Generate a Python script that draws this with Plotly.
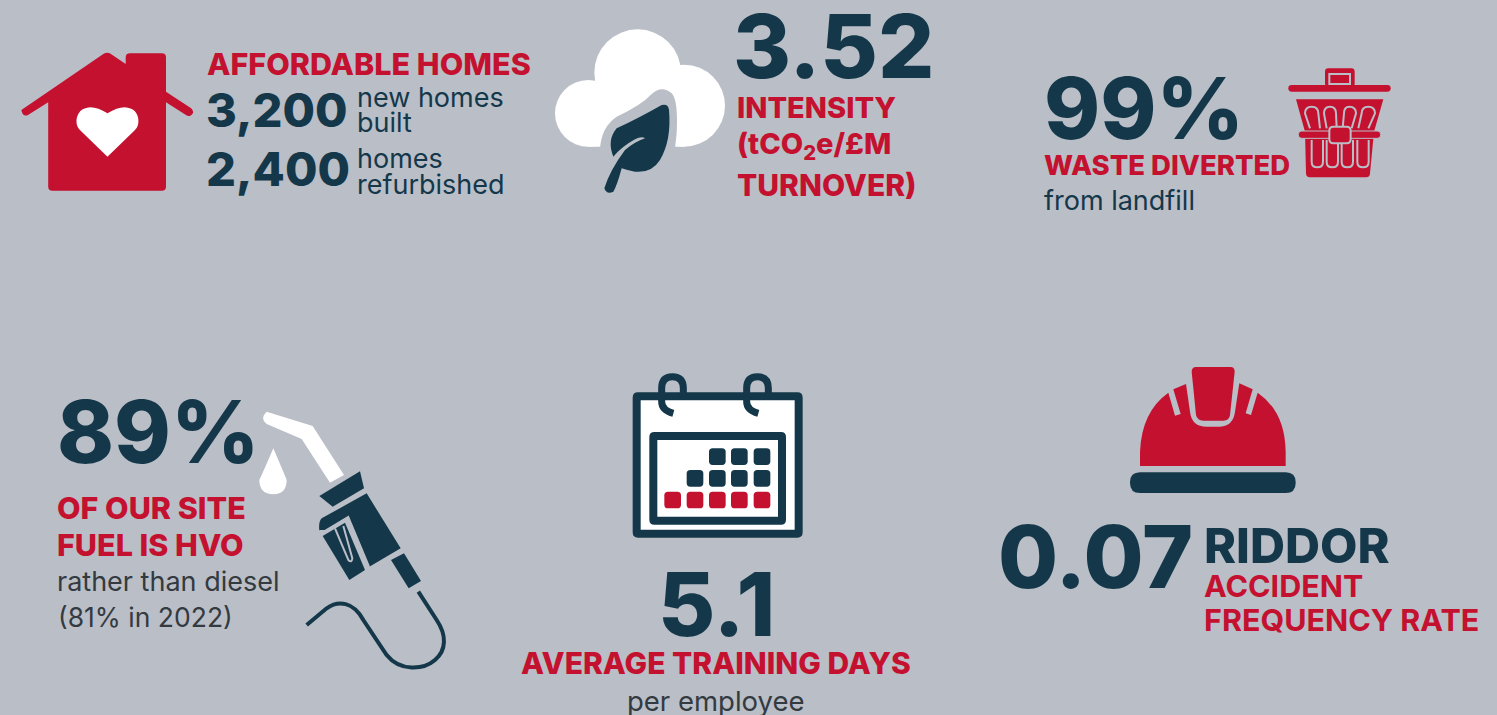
import re
import plotly.graph_objects as go

W, H = 1497, 715
BG = "#babec7"; NAVY = "#14384a"; RED = "#c4112f"; WHITE = "#ffffff"; INK = "#333a40"
FONT = "Inter"

# ---- content -------------------------------------------------------------
HEADLINES = ["3,200", "2,400", "3.52", "99%", "89%", "5.1", "0.07"]
RED_LABELS = ["AFFORDABLE HOMES", "INTENSITY", "(tCO<sub>2</sub>e/£M", "TURNOVER)",
              "WASTE DIVERTED", "OF OUR SITE", "FUEL IS HVO", "AVERAGE TRAINING DAYS"]
RED_SEMI_LABELS = ["ACCIDENT", "FREQUENCY RATE"]
BODY_LABELS = ["new homes", "built", "homes", "refurbished", "from landfill"]
INK_LABELS = ["rather than diesel", "(81% in 2022)", "per employee"]
DARK_LABELS = ["RIDDOR"]

# placement: x, y-centre, size, anchor
HEAD_POS = [(204, 109, 47, "left"), (204, 168, 47, "left"), (731, 45, 88.5, "left"),
            (1042, 108, 85, "left"), (55, 432, 86, "left"), (716, 604, 88, "center"),
            (996, 556, 87, "left")]
RED_POS = [(205, 63, 30.5, "left"), (735, 107, 29, "left"), (735, 145, 29, "left"),
           (735, 185, 30, "left"), (1042, 165, 27.5, "left"), (55, 507, 30.5, "left"),
           (55, 544, 30.5, "left"), (716, 663, 30, "center")]
RED_SEMI_POS = [(1202, 585, 30.5, "left"), (1202, 619, 30.5, "left")]
BODY_POS = [(355, 97, 27, "left"), (355, 122, 27, "left"), (355, 158, 27, "left"),
            (355, 184, 27, "left"), (1042, 200, 27, "left")]
INK_POS = [(55, 581, 27, "left"), (56, 617, 26.5, "left"), (716, 701, 27.5, "center")]
DARK_POS = [(1202, 545, 48.5, "left")]

CAL_ROWS = [[0, 0, 1, 1, 1], [0, 1, 1, 1, 1], [2, 2, 2, 2, 2]]

# ---- helpers ---------------------------------------------------------------
def tr(path, ox, oy, sx=1 / 3, sy=1 / 3):
    out, isx = [], True
    for tok in re.findall(r"[A-Za-z]|-?\d+\.?\d*", path):
        if tok.isalpha():
            out.append(tok); isx = True
        else:
            v = float(tok) * (sx if isx else sy) + (ox if isx else oy)
            out.append(f"{v:.2f}"); isx = not isx
    return " ".join(out)

def rr(x0, y0, x1, y1, r):
    return (f"M{x0+r},{y0} L{x1-r},{y0} Q{x1},{y0} {x1},{y0+r} L{x1},{y1-r} Q{x1},{y1} {x1-r},{y1} "
            f"L{x0+r},{y1} Q{x0},{y1} {x0},{y1-r} L{x0},{y0+r} Q{x0},{y0} {x0+r},{y0} Z")

shapes = []
def fill(path, o, color):
    shapes.append(dict(type="path", path=tr(path, *o), fillcolor=color, line=dict(width=0), layer="above"))
def stroke(path, o, color, w, fc=None):
    shapes.append(dict(type="path", path=tr(path, *o), fillcolor=fc or "rgba(0,0,0,0)",
                       line=dict(color=color, width=w), layer="above"))
def circle(cx, cy, r, o, color):
    x0, y0 = o
    shapes.append(dict(type="circle", x0=x0 + (cx - r) / 3, x1=x0 + (cx + r) / 3, y0=y0 + (cy - r) / 3,
                       y1=y0 + (cy + r) / 3, fillcolor=color, line=dict(width=0), layer="above"))

# house
o = (0, 30, 540 / 1568, 1 / 3)
fill("M62,240 L300,72 Q312,65 322,72 L365,102 L365,82 Q365,70 378,70 L470,70 Q482,70 482,82 L482,185 "
     "L555,235 Q568,248 553,257 Q545,259 540,255 L482,217 L482,470 Q482,482 470,482 L152,482 Q140,482 140,470 "
     "L140,217 L80,256 Q65,260 62,240 Z", o, RED)
fill("M312,380 L232,300 Q222,290 222,272 Q225,235 262,232 Q285,232 312,250 Q340,232 362,232 "
     "Q400,235 402,272 Q402,290 392,300 Z", o, WHITE)

# cloud + leaf
o = (545, 0)
circle(130, 340, 100, o, WHITE); circle(278, 218, 130, o, WHITE); circle(417, 317, 123, o, WHITE)
fill("M130,300 L417,300 L417,440 L130,440 Z", o, WHITE)
fill("M165,445 Q170,380 215,350 Q290,315 320,282 Q350,255 380,280 Q400,300 395,400 L390,445 Z", o, BG)
fill("M205,470 Q185,420 215,385 Q280,355 350,315 Q370,310 372,330 Q380,420 345,480 Q320,520 270,515 "
     "Q245,510 230,505 Q215,560 205,575 Q185,585 178,565 Q195,510 240,450 Q270,425 300,415 Q290,408 270,418 "
     "Q230,440 205,470 Z", o, NAVY)

# bin
o = (1270, 60)
fill(rr(55, 75, 362, 95, 10), o, RED)
fill(rr(165, 25, 254, 80, 10), o, RED)
stroke("M178,42 L240,42 L240,72 L178,72 Z", o, BG, 2)
fill("M78,118 L340,118 L312,215 L300,340 Q300,352 288,352 L120,352 Q108,352 108,340 L105,215 Z", o, RED)
for xl, xr, tl, tc, tr_ in ((120, 150, 105, 125, 145), (170, 200, 162, 180, 198),
                            (218, 245, 222, 238, 258), (265, 295, 275, 295, 315)):
    stroke(f"M{xl},205 L{tl},160 Q{tl},140 {tc},140 Q{tr_},140 {tr_},160 L{xr},205", o, BG, 2)
for x in (125, 170, 215, 262):
    stroke(f"M{x},240 L{x},305 Q{x},322 {x+17},322 Q{x+34},322 {x+34},305 L{x+34},240", o, BG, 2)
shapes.append(dict(type="path", path=tr(rr(85, 213, 332, 235, 10), *o), fillcolor=RED,
                   line=dict(color=BG, width=1), layer="above"))
shapes.append(dict(type="path", path=tr(rr(178, 200, 242, 250, 12), *o), fillcolor=RED,
                   line=dict(color=BG, width=2), layer="above"))

# nozzle
o = (250, 400)
fill("M50,35 L188,78 L282,225 L240,248 L155,117 L50,72 Q28,55 50,35 Z", o, WHITE)
fill("M70,145 Q100,215 110,240 Q110,282 70,283 Q28,282 28,240 Q40,215 70,145 Z", o, WHITE)
fill("M208,288 L330,214 L342,265 L248,320 Z", o, NAVY)
fill("M215,355 L350,280 L452,445 L358,500 L295,350 L225,392 L208,392 Q205,365 215,355 Z", o, NAVY)
fill("M218,408 L285,368 L345,510 L298,540 Z", o, NAVY)
stroke("M208,392 L225,392 L295,350 L358,500", o, BG, 1.5)
stroke("M255,385 L295,480 Q305,490 307,475 L280,378", o, BG, 2)
fill("M423,480 L462,460 L513,543 L476,565 Z", o, NAVY)
stroke("M505,575 L560,660 C590,705 590,750 555,780 C520,810 450,815 410,765 L340,660 C310,605 265,600 230,625 L170,675",
       o, NAVY, 4)

# calendar
o = (620, 365)
shapes.append(dict(type="path", path=tr(rr(50, 94, 536, 506, 4), *o), fillcolor=WHITE,
                   line=dict(color=NAVY, width=8), layer="above"))
stroke(rr(100, 213, 486, 467, 3), o, NAVY, 8)
for dx in (0, 255):
    stroke(f"M{160+dx},145 Q{125+dx},135 {125+dx},110 L{125+dx},70 Q{125+dx},35 {157+dx},35 "
           f"Q{190+dx},35 {190+dx},70 L{190+dx},95", o, NAVY, 7)
CX = [158, 225, 292, 358, 426]; CY = [275, 340, 405]
for j, row in enumerate(CAL_ROWS):
    for i, v in enumerate(row):
        if v:
            fill(rr(CX[i] - 25, CY[j] - 25, CX[i] + 25, CY[j] + 25, 11), o, NAVY if v == 1 else RED)

# helmet
o = (1120, 355)
fill(rr(30, 352, 527, 414, 30), o, NAVY)
fill("M60,333 L60,290 Q65,170 145,113 L165,182 L182,177 L160,103 L198,87 L210,170 Q215,215 260,215 L300,215 "
     "Q340,212 345,170 L358,85 L398,103 L377,175 L393,180 L413,113 Q495,170 497,290 L497,333 Z", o, RED)
fill("M215,50 Q215,36 228,36 L332,36 Q344,36 344,50 L330,180 Q328,197 310,197 L250,197 Q232,197 228,180 Z", o, RED)

# ---- text -------------------------------------------------------------------
ann = []
def add(texts, poss, color, weight):
    for t, (x, y, s, a) in zip(texts, poss):
        ann.append(dict(text=t, x=x, y=y, xref="x", yref="y", xanchor=a, yanchor="middle", showarrow=False,
                        font=dict(family=FONT, size=s, color=color, weight=weight)))
add(HEADLINES, HEAD_POS, NAVY, 800)
add(RED_LABELS, RED_POS, RED, 800)
add(RED_SEMI_LABELS, RED_SEMI_POS, RED, 700)
add(DARK_LABELS, DARK_POS, NAVY, 800)
add(BODY_LABELS, BODY_POS, NAVY, 400)
add(INK_LABELS, INK_POS, INK, 400)

fig = go.Figure()
fig.add_trace(go.Scatter(x=[], y=[]))
fig.update_layout(width=W, height=H, margin=dict(l=0, r=0, t=0, b=0), paper_bgcolor=BG, plot_bgcolor=BG,
                  showlegend=False, shapes=shapes, annotations=ann,
                  xaxis=dict(visible=False, range=[0, W], fixedrange=True),
                  yaxis=dict(visible=False, range=[H, 0], fixedrange=True))
fig.write_html("out.html", config=dict(displayModeBar=False),
               post_script="document.body.style.margin='0';document.body.style.background='%s';" % BG)
